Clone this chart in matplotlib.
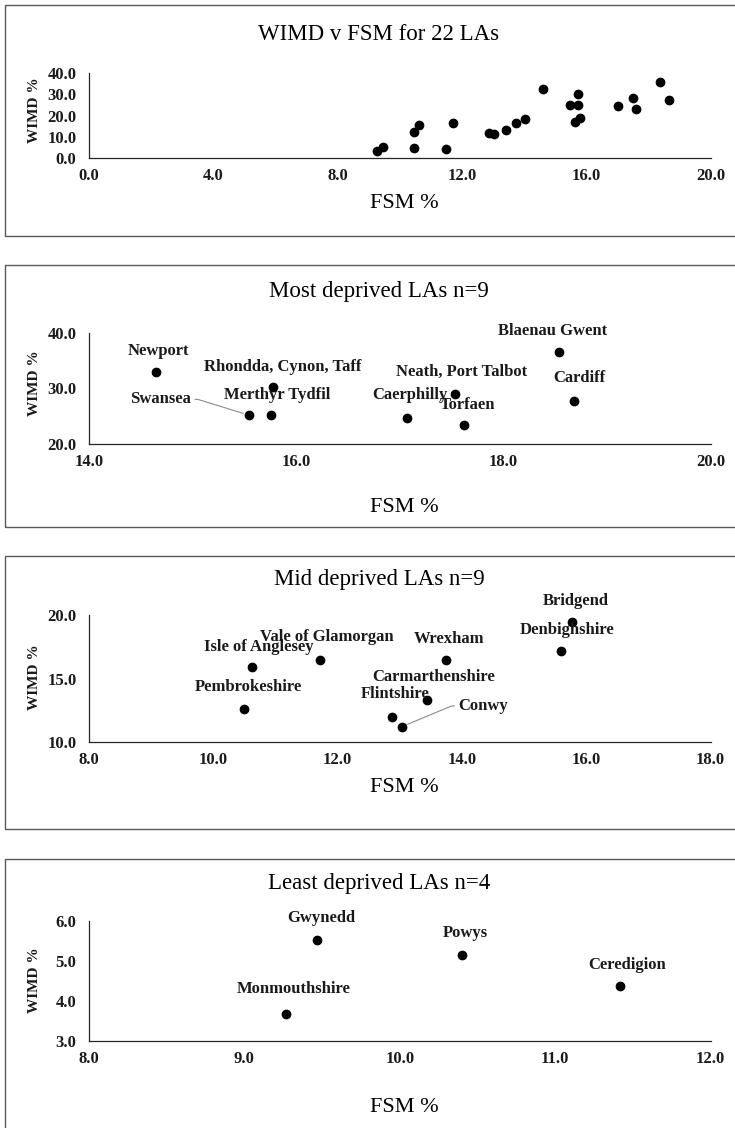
import matplotlib
matplotlib.use("Agg")
from matplotlib import pyplot as plt
from matplotlib.patches import Rectangle

# all 22 LAs (as plotted in the top chart)
all_fsm = [9.28, 9.46, 10.46, 11.48, 10.47, 10.61, 11.70, 12.86, 13.02, 13.43, 13.74, 14.04,
           14.61, 15.49, 15.73, 15.74, 15.63, 15.79, 17.02, 17.49, 17.60, 18.38, 18.65]
all_wimd = [3.4, 5.3, 4.9, 4.1, 12.4, 15.5, 16.3, 11.8, 11.3, 13.2, 16.3, 18.5,
            32.5, 24.9, 24.9, 30.0, 16.9, 19.1, 24.5, 28.4, 23.2, 36.1, 27.3]

most_names = ["Newport", "Rhondda, Cynon, Taff", "Swansea", "Merthyr Tydfil", "Caerphilly",
              "Neath, Port Talbot", "Torfaen", "Blaenau Gwent", "Cardiff"]
most_fsm = [14.65, 15.78, 15.54, 15.76, 17.07, 17.53, 17.62, 18.54, 18.68]
most_wimd = [32.9, 30.2, 25.2, 25.2, 24.7, 28.9, 23.5, 36.6, 27.8]

mid_names = ["Pembrokeshire", "Isle of Anglesey", "Vale of Glamorgan", "Wrexham",
             "Carmarthenshire", "Flintshire", "Conwy", "Denbighshire", "Bridgend"]
mid_fsm = [10.49, 10.63, 11.71, 13.75, 13.44, 12.87, 13.03, 15.60, 15.77]
mid_wimd = [12.6, 15.9, 16.5, 16.5, 13.3, 12.0, 11.2, 17.2, 19.5]

least_names = ["Gwynedd", "Powys", "Ceredigion", "Monmouthshire"]
least_fsm = [9.47, 10.40, 11.42, 9.27]
least_wimd = [5.53, 5.16, 4.38, 3.68]

# label offsets in points (dx, dy) and leader-line labels
most_offsets = [(1.2, 15.6), (6.8, 14.4), (-41.5, 11.3), (4.3, 14.4), (2, 16.5), (5, 16),
                (2.5, 14), (-5, 15), (4, 16)]
mid_offsets = [(3, 16), (4.5, 14.5), (5.5, 16), (2, 15), (4.5, 16.5), (2.5, 16), (41, 15),
               (4, 15), (3, 15)]
least_offsets = [(3, 16), (2.5, 15.5), (4.5, 15.5), (5, 18)]
leaders = {"Swansea": "right", "Conwy": "left"}

W, H = 735, 1128
TXT = "#1a1a1a"
plt.rcParams["font.family"] = ["Liberation Serif", "DejaVu Serif"]


def fx(px):
    return px / W


def fy(py):
    return 1 - py / H


fig = plt.figure(figsize=(W / 100, H / 100), dpi=100)

panels = [
    dict(title="WIMD v FSM for 22 LAs", box=(5, 236), ax=(73.3, 158), ty=35, xly=203, yly=110,
         xlim=(0, 20), ylim=(0, 40), xt=[0, 4, 8, 12, 16, 20], yt=[0, 10, 20, 30, 40],
         data=(None, all_fsm, all_wimd, None)),
    dict(title="Most deprived LAs n=9", box=(265, 527), ax=(332.7, 444), ty=292, xly=508, yly=383,
         xlim=(14, 20), ylim=(20, 40), xt=[14, 16, 18, 20], yt=[20, 30, 40],
         data=(most_names, most_fsm, most_wimd, most_offsets)),
    dict(title="Mid deprived LAs n=9", box=(556, 829), ax=(615.3, 742), ty=579, xly=788, yly=677,
         xlim=(8, 18), ylim=(10, 20), xt=[8, 10, 12, 14, 16, 18], yt=[10, 15, 20],
         data=(mid_names, mid_fsm, mid_wimd, mid_offsets)),
    dict(title="Least deprived LAs n=4", box=(859, 1140), ax=(921.3, 1041.3), ty=884, xly=1107, yly=980,
         xlim=(8, 12), ylim=(3, 6), xt=[8, 9, 10, 11, 12], yt=[3, 4, 5, 6],
         data=(least_names, least_fsm, least_wimd, least_offsets)),
]

ax_left, ax_right = 89, 710.5

for p in panels:
    top, bot = p["box"]
    fig.patches.append(Rectangle((fx(5), fy(bot)), fx(W + 20) - fx(5), fy(top) - fy(bot),
                                 transform=fig.transFigure, fill=False,
                                 edgecolor="#595959", lw=1.0))

    at, ab = p["ax"]
    ax = fig.add_axes([fx(ax_left), fy(ab), fx(ax_right) - fx(ax_left), fy(at) - fy(ab)])
    ax.set_xlim(*p["xlim"])
    ax.set_ylim(*p["ylim"])
    ax.set_xticks(p["xt"])
    ax.set_yticks(p["yt"])
    ax.set_xticklabels([f"{v:.1f}" for v in p["xt"]])
    ax.set_yticklabels([f"{v:.1f}" for v in p["yt"]])
    ax.tick_params(length=0, labelsize=12, colors=TXT)
    ax.tick_params(axis="x", pad=7)
    ax.tick_params(axis="y", pad=9)
    for lab in ax.get_xticklabels() + ax.get_yticklabels():
        lab.set_fontweight("bold")
    for side in ["top", "right"]:
        ax.spines[side].set_visible(False)
    for side in ["left", "bottom"]:
        ax.spines[side].set_color("#262626")
        ax.spines[side].set_linewidth(0.9)
    ax.patch.set_alpha(0)

    names, xs, ys, offs = p["data"]
    ax.scatter(xs, ys, s=36, color="black", zorder=3, clip_on=False)
    if names:
        for name, x, y, (dx, dy) in zip(names, xs, ys, offs):
            if name in leaders:
                ha = leaders[name]
                if ha == "right":
                    relpos, angle = (1, 0.5), 0
                else:
                    relpos, angle = (0, 0.5), 180
                ax.annotate(name, (x, y), xytext=(dx, dy), textcoords="offset points",
                            ha=ha, va="center", fontsize=12, fontweight="bold", color=TXT,
                            arrowprops=dict(arrowstyle="-", color="#8c8c8c", lw=0.8,
                                            shrinkA=1, shrinkB=4, relpos=relpos,
                                            connectionstyle=f"arc,angleA={angle},angleB=0,"
                                                            f"armA=7,armB=0,rad=0"))
            else:
                ax.annotate(name, (x, y), xytext=(dx, dy), textcoords="offset points",
                            ha="center", va="center", fontsize=12, fontweight="bold", color=TXT)

    fig.text(fx(379), fy(p["ty"]), p["title"], ha="center", va="center", fontsize=16.5, color="black")
    fig.text(fx(404), fy(p["xly"]), "FSM %", ha="center", va="center", fontsize=16, color="black")
    fig.text(fx(35), fy(p["yly"]), "WIMD %", ha="center", va="center", rotation=90,
             fontsize=11, fontweight="bold", color=TXT)

fig.savefig("out.png", dpi=100)
